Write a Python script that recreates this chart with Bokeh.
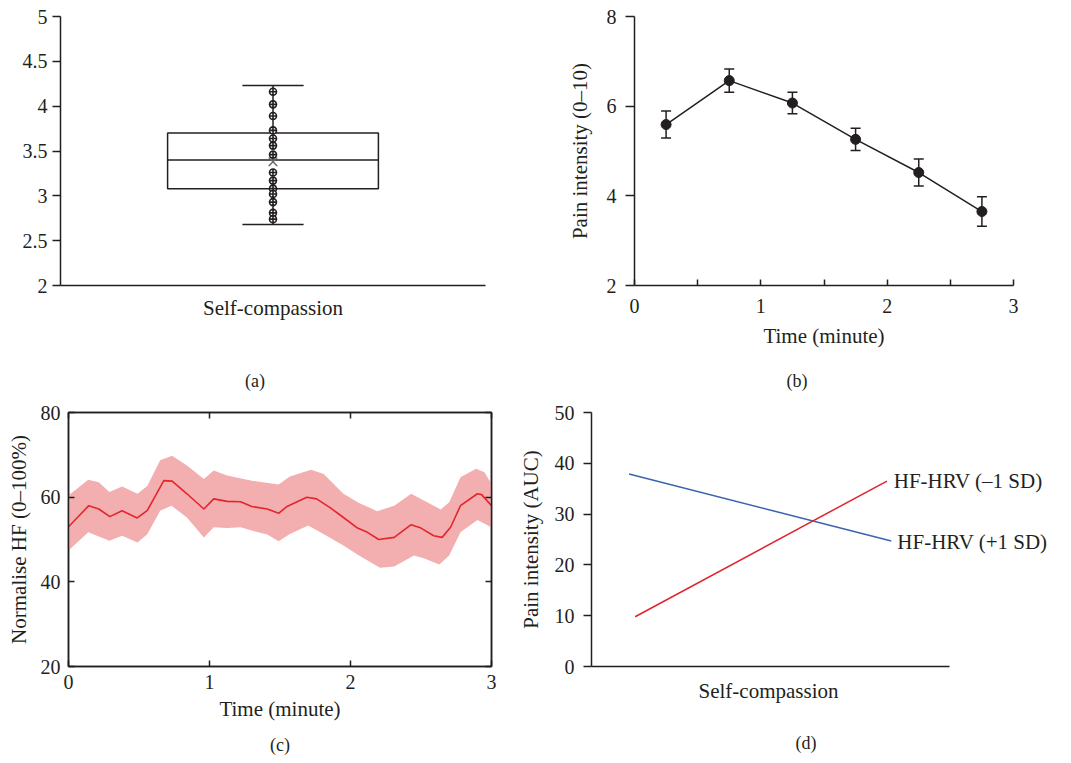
from bokeh.plotting import figure
from bokeh.layouts import column, row
from bokeh.models import (Range1d, FixedTicker, LinearAxis, Label, Whisker, TeeHead, Title,
                          ColumnDataSource, CustomJSTickFormatter)
from bokeh.embed import file_html
from bokeh.resources import INLINE

FONT = "Liberation Serif"
DARK = "#231f20"
EM = "\u2003"

# ---------------- data ----------------
# (a) self-compassion box plot
sc_points = [4.16, 4.02, 3.89, 3.73, 3.64, 3.56, 3.46, 3.26, 3.17, 3.08, 3.02, 2.93, 2.81, 2.74]
sc_whisker_low, sc_q1, sc_median, sc_q3, sc_whisker_high = 2.68, 3.08, 3.40, 3.70, 4.23
sc_mean = 3.38

# (b) pain intensity over time
pain_time = [0.25, 0.75, 1.25, 1.75, 2.25, 2.75]
pain_mean = [5.59, 6.57, 6.07, 5.26, 4.52, 3.65]
pain_err = [0.30, 0.26, 0.24, 0.25, 0.30, 0.33]

# (c) normalised HF over time
hf_t = [0.0, 0.144, 0.215, 0.293, 0.38, 0.487, 0.558, 0.676, 0.735, 0.84, 0.96, 1.03, 1.125,
        1.22, 1.30, 1.41, 1.49, 1.55, 1.69, 1.76, 1.86, 1.95, 2.05, 2.12, 2.2, 2.31, 2.43,
        2.50, 2.59, 2.65, 2.71, 2.78, 2.90, 2.93, 3.0]
hf_mean = [53.0, 58.0, 57.2, 55.4, 56.8, 55.1, 56.8, 63.9, 63.8, 60.8, 57.2, 59.6, 59.0,
           58.9, 57.8, 57.2, 56.2, 57.8, 60.0, 59.6, 57.4, 55.2, 52.7, 51.7, 50.0, 50.5, 53.5,
           52.7, 50.9, 50.5, 52.9, 58.0, 60.8, 60.6, 58.0]
hf_upper_t = [0.0, 0.14, 0.215, 0.29, 0.38, 0.49, 0.56, 0.65, 0.735, 0.84, 0.96, 1.03, 1.125,
              1.30, 1.49, 1.57, 1.72, 1.81, 1.95, 2.06, 2.19, 2.31, 2.43, 2.52, 2.64, 2.70,
              2.78, 2.89, 2.95, 3.0]
hf_upper = [60.4, 64.1, 63.5, 61.2, 62.5, 60.8, 62.7, 68.7, 69.8, 67.5, 64.3, 66.3, 65.1,
            63.9, 63.0, 64.9, 66.5, 65.5, 60.8, 58.6, 56.7, 58.0, 60.8, 59.2, 57.1, 58.8,
            64.7, 66.7, 65.9, 63.1]
hf_lower_t = [0.0, 0.14, 0.29, 0.38, 0.49, 0.56, 0.65, 0.73, 0.84, 0.96, 1.03, 1.125, 1.22,
              1.30, 1.41, 1.49, 1.57, 1.70, 1.83, 1.95, 2.06, 2.21, 2.31, 2.45, 2.52, 2.63,
              2.70, 2.78, 2.90, 3.0]
hf_lower = [47.4, 51.7, 49.7, 50.9, 49.3, 51.3, 56.8, 58.0, 55.2, 50.5, 52.9, 52.7, 52.9,
            52.1, 51.2, 49.6, 51.3, 53.3, 50.9, 48.6, 46.2, 43.3, 43.6, 46.2, 45.6, 44.1,
            46.2, 51.7, 54.6, 52.9]

# (d) moderation: pain intensity vs self-compassion
plus_sd_x = [0.105, 0.838]
plus_sd_y = [37.9, 24.7]
minus_sd_x = [0.122, 0.826]
minus_sd_y = [9.8, 36.5]
series_labels = ["HF-HRV (–1 SD)", "HF-HRV (+1 SD)"]


def base_style(p):
    p.xgrid.visible = False
    p.ygrid.visible = False
    p.outline_line_color = None
    p.background_fill_color = "white"
    p.border_fill_color = "white"
    for ax in p.axis:
        ax.axis_line_color = DARK
        ax.axis_line_width = 1.5
        ax.major_tick_line_color = DARK
        ax.major_tick_line_width = 1.5
        ax.minor_tick_line_color = None
        ax.major_label_text_font = FONT
        ax.major_label_text_font_size = "20px"
        ax.major_label_text_color = DARK
        ax.axis_label_text_font = FONT
        ax.axis_label_text_font_size = "21px"
        ax.axis_label_text_font_style = "normal"
        ax.axis_label_text_color = DARK


def caption_axis(p, text, standoff):
    ax = LinearAxis(ticker=FixedTicker(ticks=[]), axis_line_color=None,
                    major_tick_line_color=None, minor_tick_line_color=None,
                    axis_label=text, axis_label_standoff=standoff,
                    axis_label_text_font=FONT, axis_label_text_font_size="18px",
                    axis_label_text_font_style="normal", axis_label_text_color=DARK)
    p.add_layout(ax, "below")


def below_title(p, text, offset, standoff, size="18px", align="left"):
    p.add_layout(Title(text=text, align=align, offset=offset, standoff=standoff,
                       text_font=FONT, text_font_size=size, text_font_style="normal",
                       text_color=DARK), "below")


# ---------------- (a) ----------------
pa = figure(width=515, height=400, x_range=Range1d(0, 1), y_range=Range1d(2, 5),
            output_backend="svg", toolbar_location=None,
            min_border_left=60, min_border_right=30, min_border_top=15, min_border_bottom=115)
base_style(pa)
pa.yaxis.ticker = FixedTicker(ticks=[2, 2.5, 3, 3.5, 4, 4.5, 5])
pa.yaxis.formatter = CustomJSTickFormatter(code="return tick.toString()")
pa.yaxis.major_tick_in = 0
pa.yaxis.major_tick_out = 8
pa.yaxis.major_label_standoff = 5
pa.xaxis.ticker = FixedTicker(ticks=[])
pa.xaxis.major_tick_line_color = None
pa.xaxis.axis_label = "Self-compassion"
pa.xaxis.axis_label_standoff = 10

cx = 0.5
pa.segment(x0=[cx, cx], y0=[sc_whisker_low, sc_q3], x1=[cx, cx], y1=[sc_q1, sc_whisker_high],
           line_color=DARK, line_width=1.5)
pa.segment(x0=[cx - 0.072, cx - 0.072], x1=[cx + 0.072, cx + 0.072],
           y0=[sc_whisker_low, sc_whisker_high], y1=[sc_whisker_low, sc_whisker_high],
           line_color=DARK, line_width=1.5)
pa.quad(left=[cx - 0.248], right=[cx + 0.248], bottom=[sc_q1], top=[sc_q3],
        fill_color=None, line_color=DARK, line_width=1.5)
pa.segment(x0=[cx - 0.248], x1=[cx + 0.248], y0=[sc_median], y1=[sc_median],
           line_color=DARK, line_width=1.5)
pa.scatter(x=[cx] * len(sc_points), y=sc_points, marker="circle_cross", size=7,
           fill_color="white", line_color=DARK, line_width=1.6)
pa.scatter(x=[cx], y=[sc_mean], marker="x", size=12, line_color="#6a6a6a", line_width=1.5)
caption_axis(pa, "(a)" + EM * 2, 48)

# ---------------- (b) ----------------
pb = figure(width=556, height=400, x_range=Range1d(0, 3), y_range=Range1d(2, 8),
            output_backend="svg", toolbar_location=None,
            min_border_left=119, min_border_right=58, min_border_top=16, min_border_bottom=115)
base_style(pb)
pb.xaxis.ticker = FixedTicker(ticks=[0, 1, 2, 3], minor_ticks=[0.5, 1.5, 2.5])
pb.xaxis.major_tick_in = 6
pb.xaxis.major_tick_out = 0
pb.xaxis.minor_tick_line_color = DARK
pb.xaxis.minor_tick_line_width = 1.5
pb.xaxis.minor_tick_in = 6
pb.xaxis.minor_tick_out = 0
pb.xaxis.major_label_standoff = 13
pb.xaxis.axis_label = "Time (minute)"
pb.xaxis.axis_label_standoff = 8
pb.yaxis.ticker = FixedTicker(ticks=[2, 4, 6, 8])
pb.yaxis.major_tick_in = 0
pb.yaxis.major_tick_out = 9
pb.yaxis.major_label_standoff = 9
pb.yaxis.axis_label = "Pain intensity (0–10)"
pb.yaxis.axis_label_standoff = 12

src_b = ColumnDataSource(dict(x=pain_time, y=pain_mean,
                              lo=[m - e for m, e in zip(pain_mean, pain_err)],
                              hi=[m + e for m, e in zip(pain_mean, pain_err)]))
pb.line("x", "y", source=src_b, line_color=DARK, line_width=1.5)
pb.add_layout(Whisker(source=src_b, base="x", lower="lo", upper="hi",
                      line_color=DARK, line_width=1.5,
                      lower_head=TeeHead(size=10, line_color=DARK, line_width=1.5),
                      upper_head=TeeHead(size=10, line_color=DARK, line_width=1.5)))
pb.scatter("x", "y", source=src_b, size=10, fill_color=DARK, line_color=DARK)
caption_axis(pb, "(b)" + EM * 3, 20)

# ---------------- (c) ----------------
pc = figure(width=515, height=363, x_range=Range1d(0, 3), y_range=Range1d(20, 80),
            output_backend="svg", toolbar_location=None,
            min_border_left=68, min_border_right=24, min_border_top=12, min_border_bottom=97)
pc.add_layout(LinearAxis(), "above")
pc.add_layout(LinearAxis(), "right")
base_style(pc)
pc.outline_line_color = DARK
pc.outline_line_width = 1.5
for ax in pc.axis:
    ax.major_tick_in = 6
    ax.major_tick_out = 0
for ax in pc.xaxis:
    ax.ticker = FixedTicker(ticks=[0, 1, 2, 3])
for ax in pc.yaxis:
    ax.ticker = FixedTicker(ticks=[20, 40, 60, 80])
for ax in (pc.above[0], pc.right[0]):
    ax.formatter = CustomJSTickFormatter(code="return ''")
    ax.major_label_standoff = 0
pc.below[0].major_label_standoff = 8
pc.below[0].axis_label = "Time (minute)"
pc.below[0].axis_label_standoff = 5
pc.left[0].major_label_standoff = 8
pc.left[0].axis_label = "Normalise HF (0–100%)"
pc.left[0].axis_label_standoff = 7

band_x = hf_upper_t + hf_lower_t[::-1]
band_y = hf_upper + hf_lower[::-1]
pc.patch(band_x, band_y, fill_color="#f3aeb0", line_color=None)
pc.line(hf_t, hf_mean, line_color="#e3262b", line_width=1.6)
below_title(pc, "(c)", 0, 18, align="center")

# ---------------- (d) ----------------
pd_ = figure(width=556, height=363, x_range=Range1d(0, 1.3), y_range=Range1d(0, 50),
             output_backend="svg", toolbar_location=None,
             min_border_left=74, min_border_right=15, min_border_top=12, min_border_bottom=97)
base_style(pd_)
pd_.yaxis.ticker = FixedTicker(ticks=[0, 10, 20, 30, 40, 50])
pd_.yaxis.major_tick_in = 0
pd_.yaxis.major_tick_out = 8
pd_.yaxis.major_label_standoff = 9
pd_.yaxis.axis_label = "Pain intensity (AUC)"
pd_.yaxis.axis_label_standoff = 9
pd_.xaxis.ticker = FixedTicker(ticks=[])
pd_.xaxis.major_tick_line_color = None
pd_.xaxis.bounds = (0, 1)

pd_.line(plus_sd_x, plus_sd_y, line_color="#3a63ad", line_width=1.5)
pd_.line(minus_sd_x, minus_sd_y, line_color="#e0242b", line_width=1.5)
pd_.add_layout(Label(x=0.845, y=36.5, text=series_labels[0], text_align="left",
                     text_baseline="middle", text_font=FONT, text_font_size="21px",
                     text_color=DARK))
pd_.add_layout(Label(x=0.855, y=24.5, text=series_labels[1], text_align="left",
                     text_baseline="middle", text_font=FONT, text_font_size="21px",
                     text_color=DARK))
below_title(pd_, "Self-compassion", 107, 21, size="21px")
caption_axis(pd_, "(d)" + EM * 2, 19)

layout = column(row(pa, pb, spacing=0), row(pc, pd_, spacing=0), spacing=0)

open("out.html", "w").write(file_html(layout, INLINE))
